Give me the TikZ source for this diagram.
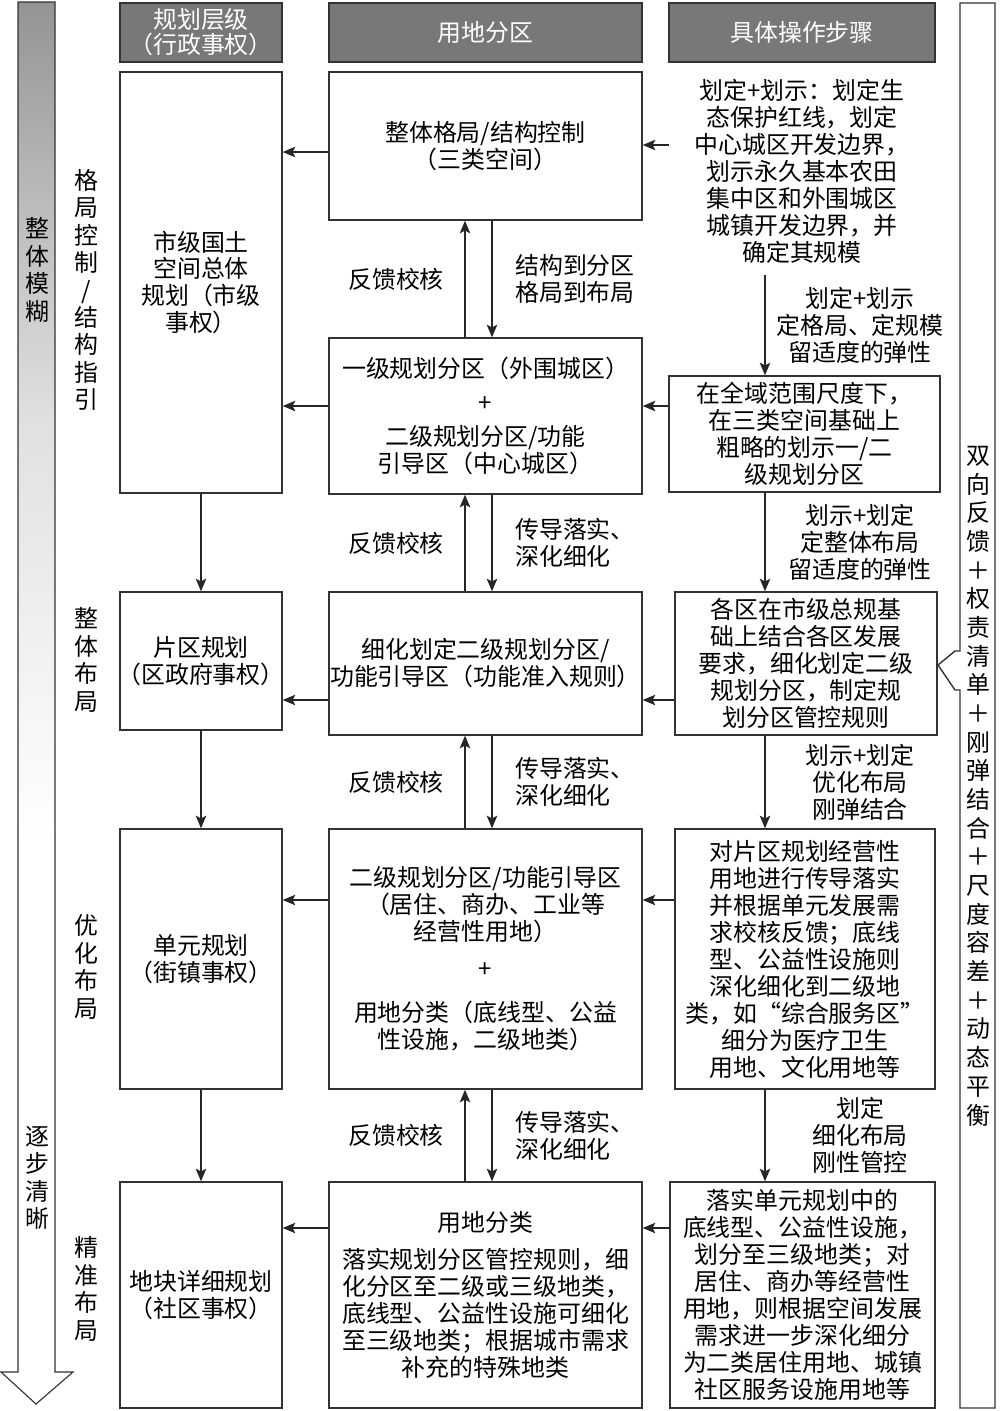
\documentclass[tikz,border=0pt]{standalone}
\usepackage{fontspec}
\setmainfont{Noto Sans CJK SC}
\usetikzlibrary{positioning,arrows.meta}
\colorlet{fadeA}{black!12}
\colorlet{fadeB}{black!27}
\colorlet{fadeC}{black!42}
\pgfdeclareverticalshading{fadegray}{100bp}{color(0bp)=(white); color(25bp)=(white); color(45bp)=(white); color(60bp)=(fadeA); color(68bp)=(fadeB); color(75bp)=(fadeC); color(100bp)=(fadeC)}
\begin{document}
\begin{tikzpicture}[x=0.25mm,y=-0.25mm,
    every node/.style={font=\fontsize{17}{19.2}\selectfont,inner sep=0pt},
    box/.style={draw=black!80,line width=1pt,align=center},
    head/.style={box,fill=black!53,text=white,minimum height=14.75mm},
    vlabel/.style={align=center,font=\fontsize{17}{19.5}\selectfont},
    note/.style={align=center},
    arr/.style={draw=black!85,line width=0.9pt,-{Stealth[length=9pt,width=7.5pt,inset=2pt]}}]
    \useasboundingbox (0,0) rectangle (1000,1411);
    \shade[shading=fadegray,draw=black!80,line width=0.8pt] (18,2) -- (55,2) -- (55,1372) -- (73,1372) -- (36,1404) -- (1,1372) -- (18,1372) -- cycle;
    \node[vlabel] (fuzzy) at (37,270) {整\\体\\模\\糊};
    \node[vlabel] (clear) at (37,1178) {逐\\步\\清\\晰};
    \node[vlabel] (s1) at (86,290) {格\\局\\控\\制\\/\\结\\构\\指\\引};
    \node[vlabel] (s2) at (86,660) {整\\体\\布\\局};
    \node[vlabel] (s3) at (86,967) {优\\化\\布\\局};
    \node[vlabel] (s4) at (86,1289) {精\\准\\布\\局};

    \node[head,minimum width=40.5mm] (h1) at (201,32.5) {规划层级\\[-1.5pt]（行政事权）};
    \node[head,minimum width=78.25mm] (h2) at (485.5,32.5) {用地分区};
    \node[head,minimum width=66.5mm] (h3) at (802,32.5) {具体操作步骤};

    \node[box,minimum width=40.5mm,minimum height=105.25mm] (l1) at (201,282.5) {市级国土\\空间总体\\规划（市级\\事权）};
    \node[box,minimum width=40.5mm,minimum height=34.5mm] (l2) at (201,661) {片区规划\\\kern-3pt（区政府事权）\kern-3pt};
    \node[box,minimum width=40.5mm,minimum height=65mm] (l3) at (201,959) {单元规划\\（街镇事权）};
    \node[box,minimum width=40.5mm,minimum height=56.5mm] (l4) at (201,1295) {地块详细规划\\（社区事权）};

    \node[box,minimum width=78.25mm,minimum height=37mm] (m1) at (485.5,146) {整体格局/结构控制\\（三类空间）};
    \node[box,minimum width=78.25mm,minimum height=39mm] (m2) at (485.5,416) {一级规划分区（外围城区）\\[5pt]+\\[5pt]二级规划分区/功能\\引导区（中心城区）};
    \node[box,minimum width=78.25mm,minimum height=35.75mm] (m3) at (485.5,663.5) {细化划定二级规划分区/\\功能引导区（功能准入规则）};
    \node[box,minimum width=78.25mm,minimum height=65mm] (m4) at (485.5,959) {二级规划分区/功能引导区\\（居住、商办、工业等\\经营性用地）\\[7pt]+\\[12pt]用地分类（底线型、公益\\性设施，二级地类）};
    \node[box,minimum width=78.25mm,minimum height=56.5mm] (m5) at (485.5,1295) {用地分类\\[7pt]落实规划分区管控规则，细\\化分区至二级或三级地类，\\底线型、公益性设施可细化\\至三级地类；根据城市需求\\补充的特殊地类};

    \node[note,minimum width=66.5mm,minimum height=52mm] (r1) at (802,171) {划定+划示：划定生\\态保护红线，划定\\中心城区开发边界，\\划示永久基本农田\\集中区和外围城区\\城镇开发边界，并\\确定其规模};
    \node[box,minimum width=67.75mm,minimum height=29mm] (r2) at (804.5,434) {在全域范围尺度下，\\在三类空间基础上\\粗略的划示一/二\\级规划分区};
    \node[box,minimum width=65.5mm,minimum height=35.75mm] (r3) at (806,663.5) {各区在市级总规基\\础上结合各区发展\\要求，细化划定二级\\规划分区，制定规\\划分区管控规则};
    \node[box,minimum width=65mm,minimum height=65mm] (r4) at (805,959) {对片区规划经营性\\用地进行传导落实\\并根据单元发展需\\求校核反馈；底线\\型、公益性设施则\\深化细化到二级地\\类，如“综合服务区”\\细分为医疗卫生\\用地、文化用地等};
    \node[box,minimum width=66.25mm,minimum height=56.5mm] (r5) at (802.5,1295) {落实单元规划中的\\底线型、公益性设施，\\划分至三级地类；对\\居住、商办等经营性\\用地，则根据空间发展\\需求进一步深化细分\\为二类居住用地、城镇\\社区服务设施用地等};

    \draw[black!80,line width=1pt] (960,651) -- (960,3) -- (995,3) -- (995,1408) -- (960,1408) -- (960,690) -- (955,690) -- (938,665) -- (955,651) -- cycle;
    \node[font=\fontsize{17}{20.4}\selectfont,align=center] (fb) at (978,786) {双\\向\\反\\馈\\＋\\权\\责\\清\\单\\＋\\刚\\弹\\结\\合\\＋\\尺\\度\\容\\差\\＋\\动\\态\\平\\衡};

    \coordinate (y1) at (0,152);
    \coordinate (y1r) at (0,145);
    \coordinate (y2) at (0,406);
    \coordinate (y3) at (0,700);
    \coordinate (y4) at (0,900);
    \coordinate (y5) at (0,1228);
    \draw[arr] (m1.west |- y1) -- (l1.east |- y1);
    \draw[arr] (r1.west |- y1r) -- (m1.east |- y1r);
    \draw[arr] (m2.west |- y2) -- (l1.east |- y2);
    \draw[arr] (r2.west |- y2) -- (m2.east |- y2);
    \draw[arr] (m3.west |- y3) -- (l2.east |- y3);
    \draw[arr] (r3.west |- y3) -- (m3.east |- y3);
    \draw[arr] (m4.west |- y4) -- (l3.east |- y4);
    \draw[arr] (r4.west |- y4) -- (m4.east |- y4);
    \draw[arr] (m5.west |- y5) -- (l4.east |- y5);
    \draw[arr] (r5.west |- y5) -- (m5.east |- y5);

    \draw[arr] (l1) -- (l2);
    \draw[arr] (l2) -- (l3);
    \draw[arr] (l3) -- (l4);

    \coordinate (mu) at (465,0);
    \coordinate (md) at (492,0);
    \coordinate (fl) at (396,0);
    \coordinate (fr) at (515,0);
    \foreach \a/\b/\txt in {m1/m2/{结构到分区\\格局到布局},m2/m3/{传导落实、\\深化细化},m3/m4/{传导落实、\\深化细化},m4/m5/{传导落实、\\深化细化}}{
        \draw[arr] (\b.north -| mu) -- (\a.south -| mu);
        \draw[arr] (\a.south -| md) -- (\b.north -| md);
        \path (\a.south -| fl) -- (\b.north -| fl) node[midway] (fb-\a) {反馈校核};
        \path (\a.south -| fr) -- (\b.north -| fr) node[midway,anchor=west,align=left] (tr-\a) {\txt};
    }

    \coordinate (rx) at (765,0);
    \coordinate (lx) at (860,0);
    \foreach \a/\b/\txt in {r1/r2/{划定+划示\\定格局、定规模\\留适度的弹性},r2/r3/{划示+划定\\定整体布局\\留适度的弹性},r3/r4/{划示+划定\\优化布局\\刚弹结合},r4/r5/{划定\\细化布局\\刚性管控}}{
        \draw[arr] (\a.south -| rx) -- (\b.north -| rx);
        \path (\a.south -| lx) -- (\b.north -| lx) node[midway,note] (st-\a) {\txt};
    }
\end{tikzpicture}
\end{document}
